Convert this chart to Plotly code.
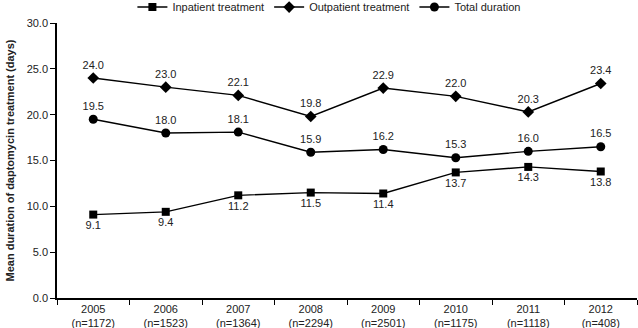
import plotly.graph_objects as go

years = ["2005", "2006", "2007", "2008", "2009", "2010", "2011", "2012"]
counts = ["1172", "1523", "1364", "2294", "2501", "1175", "1118", "408"]
inpatient = [9.1, 9.4, 11.2, 11.5, 11.4, 13.7, 14.3, 13.8]
outpatient = [24.0, 23.0, 22.1, 19.8, 22.9, 22.0, 20.3, 23.4]
total = [19.5, 18.0, 18.1, 15.9, 16.2, 15.3, 16.0, 16.5]

cats = [f"{y}<br>(n={n})" for y, n in zip(years, counts)]

FONT = "Liberation Sans, Arial, sans-serif"

fig = go.Figure()

def add(name, vals, symbol, pos, size):
    fig.add_trace(go.Scatter(
        x=cats, y=vals, name=name, mode="lines+markers+text",
        line=dict(color="black", width=1.4),
        marker=dict(symbol=symbol, size=size, color="black"),
        text=[f"{v:.1f}" for v in vals], textposition=pos,
        textfont=dict(size=11, color="#222", family=FONT),
        cliponaxis=False,
    ))

add("Inpatient treatment", inpatient, "square", "bottom center", 8)
add("Outpatient treatment", outpatient, "diamond", "top center", 9)
add("Total duration", total, "circle", "top center", 9)

fig.update_layout(
    width=638, height=328,
    margin=dict(l=57, r=1, t=23, b=30, autoexpand=False),
    paper_bgcolor="white", plot_bgcolor="white",
    font=dict(family=FONT, size=11, color="#222"),
    showlegend=True,
    legend=dict(orientation="h", x=0.13, xanchor="left",
                y=1.058, yanchor="middle",
                font=dict(size=11, family=FONT), itemwidth=30,
                bgcolor="rgba(0,0,0,0)", tracegroupgap=0),
    xaxis=dict(type="category", tickson="boundaries", ticks="outside", ticklen=5,
               tickcolor="black", showline=True, linecolor="black", linewidth=1.5,
               showgrid=False, zeroline=False, range=[-0.5, 7.5],
               tickfont=dict(size=11, family=FONT)),
    yaxis=dict(range=[0, 30], dtick=5, tickformat=".1f", ticks="outside", ticklen=5,
               tickcolor="black", showline=True, linecolor="black", linewidth=1.5,
               showgrid=False, zeroline=False,
               tickfont=dict(size=11, family=FONT),
               title=dict(text="<b>Mean duration of daptomycin treatment (days)</b>",
                          font=dict(size=11, family=FONT), standoff=10)),
)

fig.write_html("out.html")
